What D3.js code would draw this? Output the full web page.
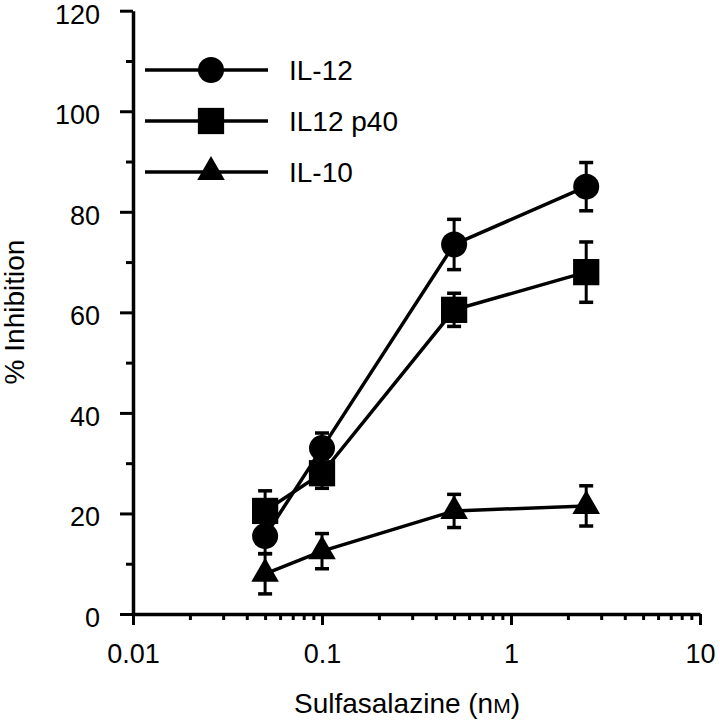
<!DOCTYPE html>
<html>
<head>
<meta charset="utf-8">
<script src="https://cdn.jsdelivr.net/npm/d3@7/dist/d3.min.js"></script>
<style>
  html, body { margin: 0; padding: 0; background: #fff; }
  svg { display: block; }
  text { font-family: "Liberation Sans", Arial, Helvetica, sans-serif; fill: #000; }
</style>
</head>
<body>
<script>
// ---- data ----
const doses = [0.05, 0.1, 0.5, 2.5];
const seriesNames = ["IL-12", "IL12 p40", "IL-10"];
const il12 = [15.5, 33, 73.5, 85];
const il12Err = [3.5, 3, 5, 4.8];
const p40 = [20.5, 28, 60.5, 68];
const p40Err = [4, 3, 3.3, 6];
const il10 = [8, 12.5, 20.5, 21.5];
const il10Err = [4, 3.5, 3.3, 4];
const yTickLabels = [0, 20, 40, 60, 80, 100, 120];
const xTickLabels = [0.01, 0.1, 1, 10];

const W = 720, H = 728;
const svg = d3.select("body").append("svg").attr("width", W).attr("height", H);

const x = d3.scaleLog().domain([0.01, 10]).range([133, 700]);
const y = d3.scaleLinear().domain([0, 120]).range([614, 10.7]);

const symbols = [d3.symbolCircle, d3.symbolSquare, d3.symbolTriangle];
const symSizes = [531, 690, 330];
const series = [
  {name: seriesNames[0], vals: il12, err: il12Err},
  {name: seriesNames[1], vals: p40, err: p40Err},
  {name: seriesNames[2], vals: il10, err: il10Err}
];

// ---- axes ----
const yTicks = d3.range(0, 121, 10);
const yAxis = d3.axisLeft(y).tickValues(yTicks).tickSizeOuter(0)
  .tickFormat(d => yTickLabels.includes(d) ? d : "");
const gy = svg.append("g").attr("transform", `translate(${x(0.01)},0)`).call(yAxis);
gy.select(".domain").attr("stroke", "#000").attr("stroke-width", 3.5);
gy.selectAll(".tick line").attr("stroke", "#000").attr("stroke-width", 3)
  .attr("x2", d => yTickLabels.includes(d) ? -13 : -7);
gy.selectAll(".tick text").attr("x", -33).attr("dy", "0.46em").attr("font-size", 27)
  .attr("font-family", "Liberation Sans, Arial, sans-serif");

const xTicks = [];
[0.01, 0.1, 1].forEach(dec => { for (let k = 1; k <= 9; k++) xTicks.push(dec * k); });
xTicks.push(10);
const isMajor = d => xTickLabels.some(v => Math.abs(v - d) / v < 1e-6);
const xAxis = d3.axisBottom(x).tickValues(xTicks).tickSizeOuter(0)
  .tickFormat(d => isMajor(d) ? (d >= 1 ? d3.format("d")(d) : String(+d.toPrecision(2))) : "");
const gx = svg.append("g").attr("transform", `translate(0,${y(0)})`).call(xAxis);
gx.select(".domain").attr("stroke", "#000").attr("stroke-width", 3.5);
gx.selectAll(".tick line").attr("stroke", "#000").attr("stroke-width", 3)
  .attr("y2", d => isMajor(d) ? 11 : 6);
gx.selectAll(".tick text").attr("y", 49).attr("dy", 0).attr("font-size", 27)
  .attr("font-family", "Liberation Sans, Arial, sans-serif");

// axis titles
svg.append("text").attr("x", 407).attr("y", 713).attr("text-anchor", "middle")
  .attr("font-size", 28)
  .html('Sulfasalazine (n<tspan font-size="21">M</tspan>)');
svg.append("text").attr("transform", "translate(24,312) rotate(-90)")
  .attr("text-anchor", "middle").attr("font-size", 28).text("% Inhibition");

// ---- data marks ----
const line = d3.line().x((d, i) => x(doses[i])).y(d => y(d));
series.forEach(s => {
  svg.append("path").attr("d", line(s.vals)).attr("fill", "none")
    .attr("stroke", "#000").attr("stroke-width", 3.5);
});
series.forEach(s => {
  const g = svg.append("g");
  s.vals.forEach((v, i) => {
    const cx = x(doses[i]);
    const y1 = y(v + s.err[i]), y2 = y(v - s.err[i]);
    g.append("line").attr("x1", cx).attr("x2", cx).attr("y1", y1).attr("y2", y2)
      .attr("stroke", "#000").attr("stroke-width", 3);
    [y1, y2].forEach(yy => g.append("line").attr("x1", cx - 7).attr("x2", cx + 7)
      .attr("y1", yy).attr("y2", yy).attr("stroke", "#000").attr("stroke-width", 3.5));
  });
});
series.forEach((s, si) => {
  svg.append("g").selectAll("path").data(s.vals).join("path")
    .attr("transform", (d, i) => `translate(${x(doses[i])},${y(d)})`)
    .attr("d", d3.symbol().type(symbols[si]).size(symSizes[si]))
    .attr("fill", "#000");
});

// ---- legend ----
const legY = [70, 121, 172];
series.forEach((s, si) => {
  const g = svg.append("g").attr("transform", `translate(0,${legY[si]})`);
  g.append("line").attr("x1", 145).attr("x2", 268).attr("y1", 0).attr("y2", 0)
    .attr("stroke", "#000").attr("stroke-width", 3.5);
  g.append("path").attr("transform", "translate(211,0)")
    .attr("d", d3.symbol().type(symbols[si]).size(symSizes[si])).attr("fill", "#000");
  g.append("text").attr("x", 289).attr("y", 0).attr("dy", "0.36em")
    .attr("font-size", 28).text(s.name);
});
</script>
</body>
</html>
